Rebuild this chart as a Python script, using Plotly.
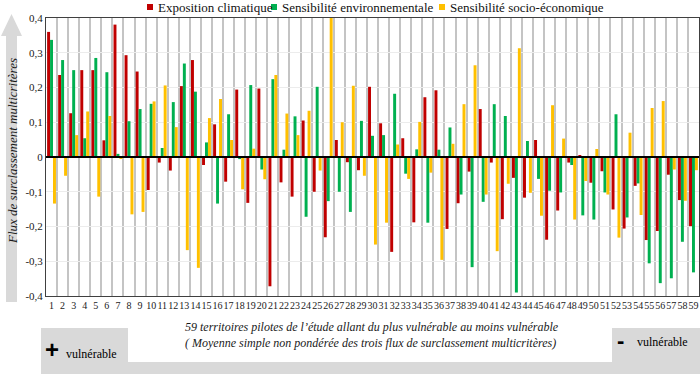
import plotly.graph_objects as go

territories = list(range(1, 60))
tick_labels = [str(i) for i in territories]

exposition = [0.36, 0.236, 0.126, 0.25, 0.25, 0.048, 0.381, 0.293, 0.246, -0.095,
              -0.016, -0.039, 0.204, 0.279, -0.023, 0.094, -0.071, 0.194, -0.132, 0.197,
              -0.372, -0.073, -0.114, 0.105, -0.1, -0.231, 0.049, -0.015, -0.038, 0.202,
              0.097, -0.273, 0.054, -0.188, 0.172, 0.192, -0.207, -0.133, -0.042, 0.138,
              -0.016, -0.179, -0.06, -0.117, 0.049, -0.238, -0.154, -0.016, 0.005, -0.074,
              -0.041, -0.151, -0.206, -0.083, -0.239, -0.213, -0.051, -0.124, -0.199]

environnement = [0.337, 0.279, 0.25, 0.054, 0.285, 0.244, 0.009, 0.103, 0.138, 0.153,
                 0.026, 0.158, 0.269, 0.188, 0.042, -0.134, 0.123, -0.006, 0.207, -0.036,
                 0.224, 0.021, 0.117, -0.172, 0.202, -0.127, -0.1, -0.158, 0.104, 0.061,
                 0.063, 0.182, -0.048, 0.022, -0.189, 0.021, 0.085, -0.108, -0.317, -0.129,
                 0.152, 0.118, -0.39, 0.046, -0.063, -0.097, -0.102, -0.023, -0.168, -0.18,
                 -0.102, 0.123, -0.174, -0.076, -0.306, -0.363, -0.349, -0.244, -0.332]

socio = [-0.134, -0.054, 0.063, 0.131, -0.114, 0.118, -0.004, -0.165, -0.158, 0.16,
         0.206, 0.086, -0.268, -0.319, 0.112, 0.167, 0.049, -0.093, 0.024, -0.064,
         0.236, 0.125, 0.063, 0.133, -0.039, 0.4, 0.1, 0.205, -0.054, -0.252,
         -0.189, 0.036, -0.063, 0.101, -0.045, -0.296, 0.038, 0.152, 0.264, -0.108,
         -0.271, -0.077, 0.313, -0.103, -0.169, 0.149, 0.053, -0.18, -0.069, 0.023,
         -0.108, -0.232, 0.07, -0.167, 0.141, 0.161, -0.036, -0.126, -0.038]

series_names = ["Exposition climatique", "Sensibilité environnementale", "Sensibilité socio-économique"]
series_colors = ["#c00000", "#00b050", "#ffc000"]

y_ticks = [0.4, 0.3, 0.2, 0.1, 0, -0.1, -0.2, -0.3, -0.4]
y_tick_text = ["0,4", "0,3", "0,2", "0,1", "0", "-0,1", "-0,2", "-0,3", "-0,4"]

W, H = 700, 374
L, R, T, B = 46, 699, 18, 296
FONT = "Liberation Serif"


def px(x):
    return (x - L) / (R - L)


def py(y):
    return (B - y) / (B - T)


fig = go.Figure()
for name, vals, col in zip(series_names, [exposition, environnement, socio], series_colors):
    fig.add_trace(go.Bar(x=territories, y=vals, name=name, marker_color=col,
                         marker_line_width=0, showlegend=False))

shapes = []
# left grey arrow
arrow_pts = [(6, 302), (6, 36), (1, 36), (11.5, 14), (22, 36), (17, 36), (17, 302)]
path = "M " + " L ".join(f"{px(a):.5f},{py(b):.5f}" for a, b in arrow_pts) + " Z"
shapes.append(dict(type="path", xref="paper", yref="paper", path=path,
                   fillcolor="#d9d9d9", line=dict(width=0), layer="below"))
# bottom grey bracket
bpts = [(41, 374), (41, 328), (128, 328), (128, 362), (612, 362), (612, 328), (700, 328), (700, 374)]
path = "M " + " L ".join(f"{px(a):.5f},{py(b):.5f}" for a, b in bpts) + " Z"
shapes.append(dict(type="path", xref="paper", yref="paper", path=path,
                   fillcolor="#d9d9d9", line=dict(width=0), layer="below"))
# zero line on top
shapes.append(dict(type="line", xref="paper", yref="y", x0=0, x1=1, y0=0, y1=0,
                   line=dict(color="black", width=2), layer="above"))

annotations = []
# manual legend
leg_x = [147, 271, 439]
for xs, name, col in zip(leg_x, series_names, series_colors):
    shapes.append(dict(type="rect", xref="paper", yref="paper",
                       x0=px(xs), x1=px(xs + 6), y0=py(4), y1=py(10),
                       fillcolor=col, line=dict(width=0)))
    annotations.append(dict(text=name, xref="paper", yref="paper", x=px(xs + 9), y=py(7),
                            xanchor="left", yanchor="middle", showarrow=False,
                            font=dict(family=FONT, size=13, color="#111111")))

annotations.append(dict(text="<i>Flux de surclassement multicritères</i>", xref="paper", yref="paper",
                        x=px(12), y=py(151), textangle=-90, showarrow=False,
                        xanchor="center", yanchor="middle",
                        font=dict(family=FONT, size=13, color="#1a1a1a")))
annotations.append(dict(text="<i>59 territoires pilotes de l’étude allant du plus vulnérable au moins vulnérable</i>",
                        xref="paper", yref="paper", x=px(372), y=py(327), showarrow=False,
                        xanchor="center", yanchor="middle",
                        font=dict(family=FONT, size=12, color="#1a1a1a")))
annotations.append(dict(text="<i>( Moyenne simple non pondérée des trois flux de surclassement multicritères)</i>",
                        xref="paper", yref="paper", x=px(370), y=py(343), showarrow=False,
                        xanchor="center", yanchor="middle",
                        font=dict(family=FONT, size=12, color="#1a1a1a")))
annotations.append(dict(text="<b>+</b>", xref="paper", yref="paper", x=px(52), y=py(349), showarrow=False,
                        xanchor="center", yanchor="middle",
                        font=dict(family="Liberation Sans", size=24, color="black")))
annotations.append(dict(text="vulnérable", xref="paper", yref="paper", x=px(64), y=py(354), showarrow=False,
                        xanchor="left", yanchor="middle",
                        font=dict(family=FONT, size=12, color="black")))
annotations.append(dict(text="<b>-</b>", xref="paper", yref="paper", x=px(620), y=py(341), showarrow=False,
                        xanchor="center", yanchor="middle",
                        font=dict(family="Liberation Sans", size=22, color="black")))
annotations.append(dict(text="vulnérable", xref="paper", yref="paper", x=px(635), y=py(342), showarrow=False,
                        xanchor="left", yanchor="middle",
                        font=dict(family=FONT, size=12, color="black")))

fig.update_layout(
    width=W, height=H,
    margin=dict(l=L, r=W - R, t=T, b=H - B, pad=0),
    paper_bgcolor="white", plot_bgcolor="white",
    barmode="group", bargap=0.2, bargroupgap=0,
    shapes=shapes, annotations=annotations,
    showlegend=False,
    font=dict(family=FONT, color="#1a1a1a"),
)
fig.update_xaxes(
    range=[0.5, 59.5], tickmode="array", tickvals=territories, ticktext=tick_labels,
    tickangle=0, tickfont=dict(family=FONT, size=10, color="#1a1a1a"),
    showgrid=False, zeroline=False, ticks="",
    showline=True, mirror=True, linecolor="#404040", linewidth=1,
    minor=dict(tick0=0.5, dtick=1, showgrid=True, gridcolor="#c4c4c4", gridwidth=2, ticks=""),
)
fig.update_yaxes(
    range=[-0.4, 0.4], tickmode="array", tickvals=y_ticks, ticktext=y_tick_text,
    tickfont=dict(family=FONT, size=11, color="#1a1a1a"),
    showgrid=True, gridcolor="#ececec", gridwidth=1,
    zeroline=False, ticks="",
    showline=True, mirror=True, linecolor="#404040", linewidth=1,
)

fig.write_html("out.html", config={"displayModeBar": False},
               post_script="document.body.style.margin='0';document.body.style.overflow='hidden';")
